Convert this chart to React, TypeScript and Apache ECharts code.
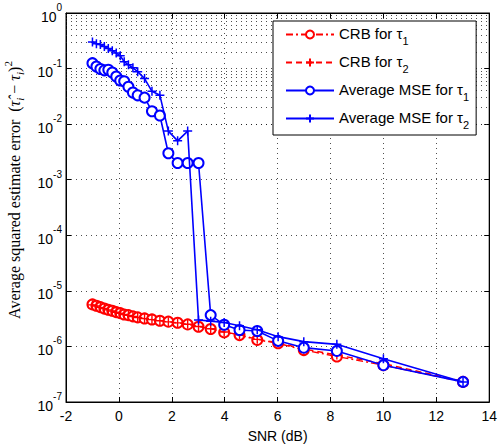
import React, { useEffect, useRef } from "react";
import * as echarts from "echarts";

// SNR (dB) sample points
const snr = [-1.0, -0.85, -0.7, -0.55, -0.4, -0.25, -0.1, 0.05, 0.2, 0.36, 0.53, 0.71, 0.97, 1.25, 1.55, 1.87, 2.22, 2.6, 3.01, 3.47, 3.98, 4.56, 5.23, 6.02, 6.99, 8.24, 10.0, 13.01];

const crbTau1 = [5.7e-6, 5.4e-6, 5.1e-6, 4.8e-6, 4.56e-6, 4.38e-6, 4.14e-6, 3.97e-6, 3.76e-6, 3.66e-6, 3.47e-6, 3.33e-6, 3.19e-6, 3.06e-6, 2.9e-6, 2.79e-6, 2.67e-6, 2.49e-6, 2.26e-6, 2.06e-6, 1.79e-6, 1.6e-6, 1.31e-6, 1.14e-6, 8.6e-7, 6.6e-7, 4.6e-7, 2.3e-7];
const crbTau2 = [5.6e-6, 5.35e-6, 5.05e-6, 4.8e-6, 4.55e-6, 4.35e-6, 4.12e-6, 3.95e-6, 3.75e-6, 3.62e-6, 3.45e-6, 3.32e-6, 3.17e-6, 3.04e-6, 2.89e-6, 2.77e-6, 2.65e-6, 2.5e-6, 2.28e-6, 2.08e-6, 1.82e-6, 1.62e-6, 1.34e-6, 1.17e-6, 9.0e-7, 7.0e-7, 4.9e-7, 2.35e-7];
const mseTau1 = [0.125, 0.109, 0.098, 0.093, 0.095, 0.085, 0.072, 0.061, 0.059, 0.047, 0.037, 0.033, 0.03, 0.0171, 0.0143, 0.003, 0.002, 0.002, 0.002, 3.66e-6, 2.45e-6, 1.97e-6, 1.89e-6, 1.26e-6, 9.5e-7, 8.3e-7, 4.6e-7, 2.3e-7];
const mseTau2 = [0.3, 0.28, 0.27, 0.25, 0.23, 0.21, 0.19, 0.17, 0.133, 0.117, 0.103, 0.088, 0.066, 0.039, 0.033, 0.0075, 0.005, 0.0075, 2.98e-6, 2.85e-6, 2.7e-6, 2.36e-6, 2.0e-6, 1.5e-6, 1.22e-6, 1.09e-6, 6.0e-7, 2.3e-7];

const seriesNames = ["CRB for τ1", "CRB for τ2", "Average MSE for τ1", "Average MSE for τ2"];
const xTicks = { min: -2, max: 14, interval: 2 };
const yExpMin = -7;
const yExpMax = 0;

const PLUS = "path://M5,0L5,10M0,5L10,5";
const RED = "#ff0000";
const BLUE = "#0000ff";

function pairs(ys: number[]) {
  return snr.map((x, i) => [x, ys[i]]);
}

export default function App() {
  const ref = useRef<HTMLDivElement>(null);
  useEffect(() => {
    if (!ref.current) return;
    const chart = echarts.init(ref.current, undefined, { renderer: "svg" });

    const minorVals: number[] = [];
    for (let e = yExpMin; e < yExpMax; e++) {
      for (let m = 2; m <= 9; m++) minorVals.push(m * Math.pow(10, e));
    }
    const dotted = { type: [1, 4] as any, color: "#222", width: 0.8 };

    const option: any = {
      animation: false,
      backgroundColor: "#fff",
      grid: { left: 66, right: 9, top: 13, bottom: 44, show: true, borderColor: "#000", borderWidth: 1, backgroundColor: "transparent" },
      legend: {
        data: seriesNames,
        orient: "vertical",
        left: 273,
        top: 21,
        padding: [5, 7, 5, 12],
        itemWidth: 48,
        itemHeight: 10,
        itemGap: 8,
        backgroundColor: "#fff",
        borderColor: "#000",
        borderWidth: 1,
        formatter: (name: string) => `{n|${name.slice(0, -1)}}{s|${name.slice(-1)}}`,
        textStyle: {
          color: "#000",
          fontFamily: "Liberation Sans, Arial",
          rich: {
            n: { fontSize: 15, fontFamily: "Liberation Sans, Arial", color: "#000", verticalAlign: "top", lineHeight: 17 },
            s: { fontSize: 11, fontFamily: "Liberation Sans, Arial", color: "#000", verticalAlign: "top", padding: [9, 0, 0, 0], lineHeight: 10 },
          },
        },
      },
      xAxis: [
        {
          type: "value",
          min: xTicks.min,
          max: xTicks.max,
          interval: xTicks.interval,
          name: "SNR (dB)",
          nameLocation: "middle",
          nameGap: 27,
          nameTextStyle: { fontSize: 14, fontFamily: "Liberation Sans, Arial", color: "#000" },
          axisLine: { onZero: false, lineStyle: { color: "#000", width: 1 } },
          axisTick: { inside: true, length: 5, lineStyle: { color: "#000" } },
          axisLabel: { fontSize: 14, fontFamily: "Liberation Sans, Arial", color: "#000", margin: 7 },
          splitLine: { show: true, lineStyle: dotted },
        },
        {
          type: "value",
          position: "top",
          min: xTicks.min,
          max: xTicks.max,
          interval: xTicks.interval,
          axisLine: { onZero: false, lineStyle: { color: "#000", width: 1 } },
          axisTick: { inside: true, length: 5, lineStyle: { color: "#000" } },
          axisLabel: { show: false },
          splitLine: { show: false },
        },
      ],
      yAxis: [
        {
          type: "log",
          logBase: 10,
          min: Math.pow(10, yExpMin),
          max: Math.pow(10, yExpMax),
          interval: 1,
          axisLine: { onZero: false, lineStyle: { color: "#000", width: 1 } },
          axisTick: { inside: true, length: 5, lineStyle: { color: "#000" } },
          axisLabel: {
            margin: 4,
            formatter: (v: number) => `{b|10}{s|${Math.round(Math.log10(v))}}`,
            rich: {
              b: { fontSize: 14, fontFamily: "Liberation Sans, Arial", color: "#000", verticalAlign: "top", padding: [7, 0, 0, 0] },
              s: { fontSize: 10, fontFamily: "Liberation Sans, Arial", color: "#000", verticalAlign: "top" },
            },
          },
          splitLine: { show: true, lineStyle: dotted },
        },
        {
          type: "log",
          logBase: 10,
          position: "right",
          min: Math.pow(10, yExpMin),
          max: Math.pow(10, yExpMax),
          interval: 1,
          axisLine: { onZero: false, lineStyle: { color: "#000", width: 1 } },
          axisTick: { inside: true, length: 5, lineStyle: { color: "#000" } },
          axisLabel: { show: false },
          splitLine: { show: false },
        },
      ],
      graphic: [
        {
          type: "text",
          x: 14,
          y: 190,
          rotation: Math.PI / 2,
          style: {
            text: "{a|Average squared estimate error  (}{t|τ̂}{i|i}{a| − }{t|τ}{i|i}{a|)}{p|2}",
            textAlign: "center",
            textVerticalAlign: "middle",
            rich: {
              a: { fontSize: 16, fontFamily: "Liberation Serif", fill: "#000", verticalAlign: "top", padding: [4, 0, 0, 0] },
              t: { fontSize: 16, fontFamily: "Liberation Serif", fontStyle: "italic", fill: "#000", verticalAlign: "top", padding: [4, 0, 0, 0] },
              i: { fontSize: 11, fontFamily: "Liberation Serif", fontStyle: "italic", fill: "#000", verticalAlign: "top", padding: [12, 0, 0, 0] },
              p: { fontSize: 11, fontFamily: "Liberation Serif", fill: "#000", verticalAlign: "top" },
            },
          },
        },
      ],
      series: [
        {
          name: seriesNames[0],
          type: "line",
          data: pairs(crbTau1),
          symbol: "emptyCircle",
          symbolSize: 10,
          lineStyle: { color: RED, width: 1.4, type: [7, 3, 2, 3] },
          itemStyle: { color: RED, borderColor: RED, borderWidth: 1.4 },
          z: 3,
          markLine: {
            silent: true,
            symbol: "none",
            label: { show: false },
            lineStyle: dotted,
            data: minorVals.map((v) => ({ yAxis: v })),
            z: 1,
          },
        },
        {
          name: seriesNames[1],
          type: "line",
          data: pairs(crbTau2),
          symbol: PLUS,
          symbolSize: 9,
          lineStyle: { color: RED, width: 1.4, type: [6, 4] },
          itemStyle: { color: RED, borderColor: RED, borderWidth: 1.4 },
          z: 4,
        },
        {
          name: seriesNames[2],
          type: "line",
          data: pairs(mseTau1),
          symbol: "emptyCircle",
          symbolSize: 10,
          lineStyle: { color: BLUE, width: 1.6 },
          itemStyle: { color: BLUE, borderColor: BLUE, borderWidth: 1.5 },
          z: 5,
        },
        {
          name: seriesNames[3],
          type: "line",
          data: pairs(mseTau2),
          symbol: PLUS,
          symbolSize: 9,
          lineStyle: { color: BLUE, width: 1.6 },
          itemStyle: { color: BLUE, borderColor: BLUE, borderWidth: 1.5 },
          z: 6,
        },
      ],
    };
    chart.setOption(option);
    return () => chart.dispose();
  }, []);
  return <div ref={ref} style={{ position: "absolute", left: 0, top: 0, width: 500, height: 448 }} />;
}
